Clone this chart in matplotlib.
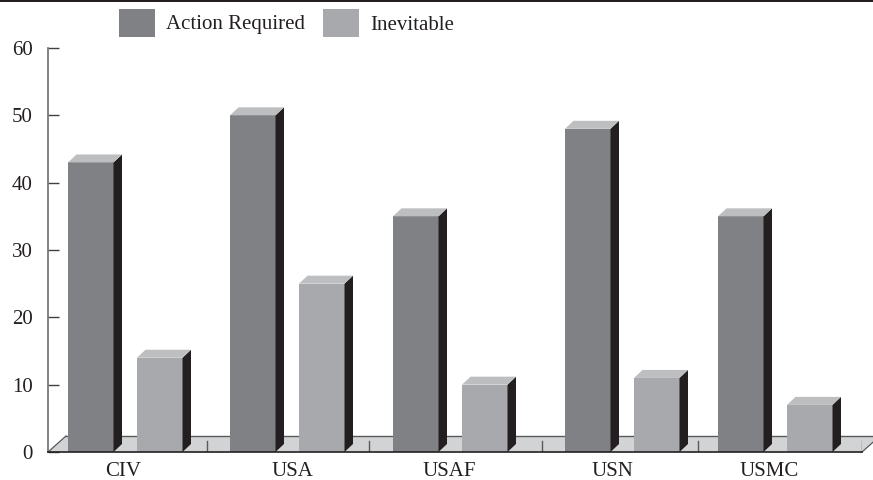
import matplotlib
matplotlib.use("Agg")
import matplotlib.pyplot as plt
from matplotlib.patches import Polygon, Rectangle

categories = ["CIV", "USA", "USAF", "USN", "USMC"]
action_required = [43, 50, 35, 48, 35]
inevitable = [14, 25, 10, 11, 7]
yticks = [0, 10, 20, 30, 40, 50, 60]

# layout, all in image pixels (x axis of the plot runs in pixels)
W, H = 873, 480
AX_L, AX_R, AX_T, AX_B = 48, 862, 48, 452
group_left = [68, 230, 393, 565, 718]
label_x = [123, 292, 449, 612, 769]
floor_ticks = [207, 369, 542, 698, 862]
bar_w = 45.5
gap = 23.5
dx, dy_px = 8.5, 8

DARK = "#808184"
LIGHT = "#a7a9ac"
TOP = "#bcbec0"
SIDE = "#231f20"
FLOOR = "#d1d3d4"

plt.rcParams["font.family"] = ["Liberation Serif", "DejaVu Serif"]

fig = plt.figure(figsize=(W / 100, H / 100), dpi=100)
ax = fig.add_axes([AX_L / W, 1 - AX_B / H, (AX_R - AX_L) / W, (AX_B - AX_T) / H])
ax.set_xlim(AX_L, AX_R)
ax.set_ylim(0, 60)
unit = (AX_B - AX_T) / 60
dy = dy_px / unit

for s in ["top", "right"]:
    ax.spines[s].set_visible(False)
ax.spines["left"].set_color("#6d6e71")
ax.spines["left"].set_linewidth(1.2)
ax.spines["bottom"].set_color(SIDE)
ax.spines["bottom"].set_linewidth(1.2)
ax.spines["bottom"].set_zorder(6)

# floor
fd = 16 / unit
ax.add_patch(Polygon([(AX_L, 0), (AX_R, 0), (AX_R + 18, fd), (AX_L + 18, fd)],
                     closed=True, facecolor=FLOOR, edgecolor="none", clip_on=False, zorder=1))
ax.plot([AX_L, AX_L + 18], [0, fd], color="#58595b", lw=0.9, zorder=1.5, clip_on=False)
ax.plot([AX_R, AX_R + 18], [0, fd], color="#58595b", lw=0.9, zorder=1.5, clip_on=False)
ax.plot([AX_L + 18, AX_R + 18], [fd, fd], color="#58595b", lw=1, zorder=1.5, clip_on=False)
for t in floor_ticks:
    ax.plot([t, t], [0, 11 / unit], color="#58595b", lw=1, zorder=1.6)


def bar3d(x, v, color):
    ax.bar(x, v, width=bar_w, align="edge", color=color, zorder=3)
    r = x + bar_w
    ax.add_patch(Polygon([(r, 0), (r + dx, dy), (r + dx, v + dy), (r, v)],
                         closed=True, facecolor=SIDE, edgecolor="none", zorder=3))
    ax.add_patch(Polygon([(x, v), (r, v), (r + dx, v + dy), (x + dx, v + dy)],
                         closed=True, facecolor=TOP, edgecolor="none", zorder=3))


for i, left in enumerate(group_left):
    bar3d(left, action_required[i], DARK)
    bar3d(left + bar_w + gap, inevitable[i], LIGHT)

ax.set_yticks(yticks)
ax.set_xticks([])
ax.tick_params(axis="y", direction="in", length=8, width=1, color="#414042", pad=10.8,
               labelsize=15, labelcolor="#231f20")
for x, c in zip(label_x, categories):
    ax.text(x, -1.45, c, ha="center", va="top", fontsize=15, color="#231f20")

# legend and top rule, in pixel coords of the figure
def px_rect(x, y, w, h, color):
    fig.add_artist(Rectangle((x / W, 1 - (y + h) / H), w / W, h / H,
                             transform=fig.transFigure, facecolor=color, edgecolor="none"))

px_rect(119, 9, 36, 28, DARK)
px_rect(323, 9, 36, 28, LIGHT)
fig.text(166 / W, 1 - 25 / H, "Action Required", ha="left", va="center", fontsize=15, color="#231f20")
fig.text(370 / W, 1 - 25 / H, "Inevitable", ha="left", va="center", fontsize=15, color="#231f20")
px_rect(0, 0, W, 1.5, "#231f20")

fig.savefig("out.png", dpi=100)
